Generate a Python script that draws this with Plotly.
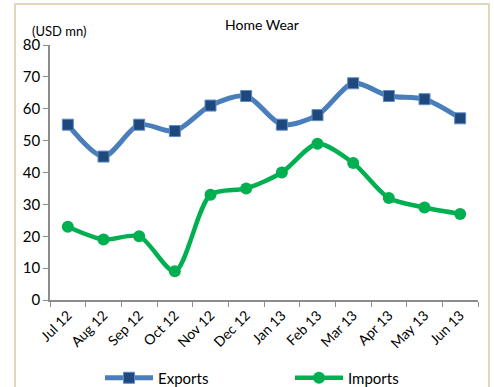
import plotly.graph_objects as go

months = ["Jul 12", "Aug 12", "Sep 12", "Oct 12", "Nov 12", "Dec 12",
          "Jan 13", "Feb 13", "Mar 13", "Apr 13", "May 13", "Jun 13"]
exports = [55, 45, 55, 53, 61, 64, 55, 58, 68, 64, 63, 57]
imports = [23, 19, 20, 9, 33, 35, 40, 49, 43, 32, 29, 27]
y_ticks = [0, 10, 20, 30, 40, 50, 60, 70, 80]

FONT = "Lato, Open Sans, sans-serif"
W, H = 494, 387
ML, MR, MT, MB = 50, 16, 45, 87
PW, PH = W - ML - MR, H - MT - MB


def px_x(x):
    return (x - ML) / PW


def px_y(y):
    return (H - MB - y) / PH


fig = go.Figure()
fig.add_trace(go.Scatter(
    x=months, y=exports, name="Exports", mode="lines+markers",
    line=dict(color="#4a7ebb", width=5, shape="spline", smoothing=0.8),
    marker=dict(symbol="square", size=11, color="#1f497d",
                line=dict(color="#5b8bc9", width=1)),
    legend="legend",
))
fig.add_trace(go.Scatter(
    x=months, y=imports, name="Imports", mode="lines+markers",
    line=dict(color="#00b050", width=4.5, shape="spline", smoothing=0.8),
    marker=dict(symbol="circle", size=12, color="#00b050"),
    legend="legend2",
))

legend_style = dict(orientation="h", xanchor="left", yanchor="middle",
                    y=px_y(378), itemwidth=48, font=dict(size=15),
                    bgcolor="rgba(0,0,0,0)")

fig.update_layout(
    width=W, height=H,
    margin=dict(l=ML, r=MR, t=MT, b=MB, autoexpand=False),
    paper_bgcolor="white", plot_bgcolor="white",
    font=dict(family=FONT, size=14, color="#000000"),
    showlegend=True,
    legend=dict(x=px_x(100), **legend_style),
    legend2=dict(x=px_x(290), **legend_style),
    xaxis=dict(
        type="category", tickangle=-45, tickson="boundaries",
        showline=True, linecolor="#8c8c8c", linewidth=1.5,
        ticks="outside", ticklen=5, tickcolor="#8c8c8c",
        showgrid=False, tickfont=dict(size=14), range=[-0.5, 11.5],
        automargin=False,
    ),
    yaxis=dict(
        range=[0, 80], tickvals=y_ticks, showline=True,
        linecolor="#8c8c8c", linewidth=1.5, ticks="outside", ticklen=5,
        tickcolor="#8c8c8c", showgrid=False, zeroline=False,
        tickfont=dict(size=15), automargin=False,
    ),
    annotations=[
        dict(text="Home Wear", xref="paper", yref="paper",
             x=px_x(262), y=px_y(24), xanchor="center", yanchor="middle",
             showarrow=False, font=dict(size=14)),
        dict(text="(USD mn)", xref="paper", yref="paper",
             x=px_x(30), y=px_y(31), xanchor="left", yanchor="middle",
             showarrow=False, font=dict(size=13)),
    ],
    shapes=[
        dict(type="rect", xref="paper", yref="paper",
             x0=px_x(15), x1=px_x(489), y0=px_y(400), y1=px_y(4),
             line=dict(color="#e3d6bf", width=2), layer="below"),
    ],
)

fig.write_html("out.html")
